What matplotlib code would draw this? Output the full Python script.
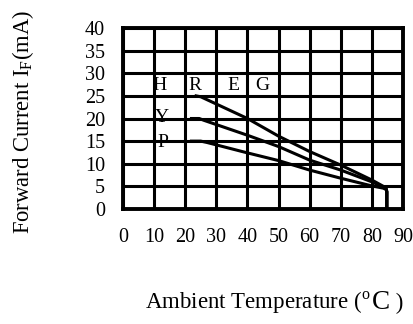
import matplotlib
matplotlib.use("Agg")
import matplotlib.pyplot as plt

plt.rcParams['font.family'] = ['Liberation Serif', 'DejaVu Serif']
plt.rcParams['mathtext.fontset'] = 'custom'
plt.rcParams['mathtext.rm'] = 'Liberation Serif'

x_ticks = [0, 10, 20, 30, 40, 50, 60, 70, 80, 90]
y_ticks = [0, 5, 10, 15, 20, 25, 30, 35, 40]

hreg_x = [23.5, 25, 40, 50, 60, 70, 80, 83.7, 84.6, 84.8, 84.8]
hreg_y = [25, 24.8, 20, 16.1, 12.7, 9.7, 6.4, 5.0, 4.5, 3.8, 0]
y_x = [22, 24.5, 26, 40, 50, 60, 70, 80, 83.7, 84.6, 84.8, 84.8]
y_y = [20, 20, 19.6, 16.3, 13.8, 10.8, 8.6, 6.0, 4.8, 4.4, 3.8, 0]
p_x = [22, 25, 27, 40, 50, 60, 70, 80, 83.7, 84.6, 84.8, 84.8]
p_y = [15, 15, 14.7, 12.4, 10.7, 8.6, 6.8, 5.1, 4.6, 4.3, 3.8, 0]

labels = [("H", 11.6, 27.2), ("R", 23.1, 27.2), ("E", 35.4, 27.2), ("G", 44.7, 27.2),
          ("Y", 12.5, 20.3), ("P", 12.9, 14.8)]

fig = plt.figure(figsize=(4.14, 3.24), dpi=100)
ax = fig.add_axes([123/414, 1-209/324, 280/414, 181/324])
ax.set_xlim(0, 90)
ax.set_ylim(0, 40)
ax.set_xticks(x_ticks)
ax.set_yticks(y_ticks)
ax.tick_params(length=0, labelsize=14.5)
ax.tick_params(axis='x', pad=14)
ax.tick_params(axis='y', pad=13)
ax.grid(True, color='black', linewidth=2.2)
for s in ax.spines.values():
    s.set_linewidth(2.8)
for xs, ys in [(hreg_x, hreg_y), (y_x, y_y), (p_x, p_y)]:
    ax.plot(xs, ys, color='black', linewidth=2.2, solid_joinstyle='round')
for t, lx, ly in labels:
    ax.text(lx, ly, t, fontsize=14, ha='center', va='center')

base_y = 1 - 309/324
t1 = fig.text(145/414, base_y, r"Ambient Temperature ($^{\rm o}$", fontsize=16.5,
              ha='left', va='baseline')
t2 = fig.text(0, base_y, "C", fontsize=19.5, ha='left', va='baseline')
fig.canvas.draw()
r = fig.canvas.get_renderer()
bb = t1.get_window_extent(r)
t2.set_position((bb.x1 / fig.bbox.width + 1/414, base_y))
fig.canvas.draw()
bb2 = t2.get_window_extent(r)
fig.text(bb2.x1 / fig.bbox.width, base_y, " )", fontsize=16.5, ha='left', va='baseline')

fig.text(23/414, 1-122/324, r"Forward Current I$_{\rm F}$(mA)", fontsize=16.3, rotation=90,
         ha='center', va='center')

fig.savefig("out.png", dpi=100)
